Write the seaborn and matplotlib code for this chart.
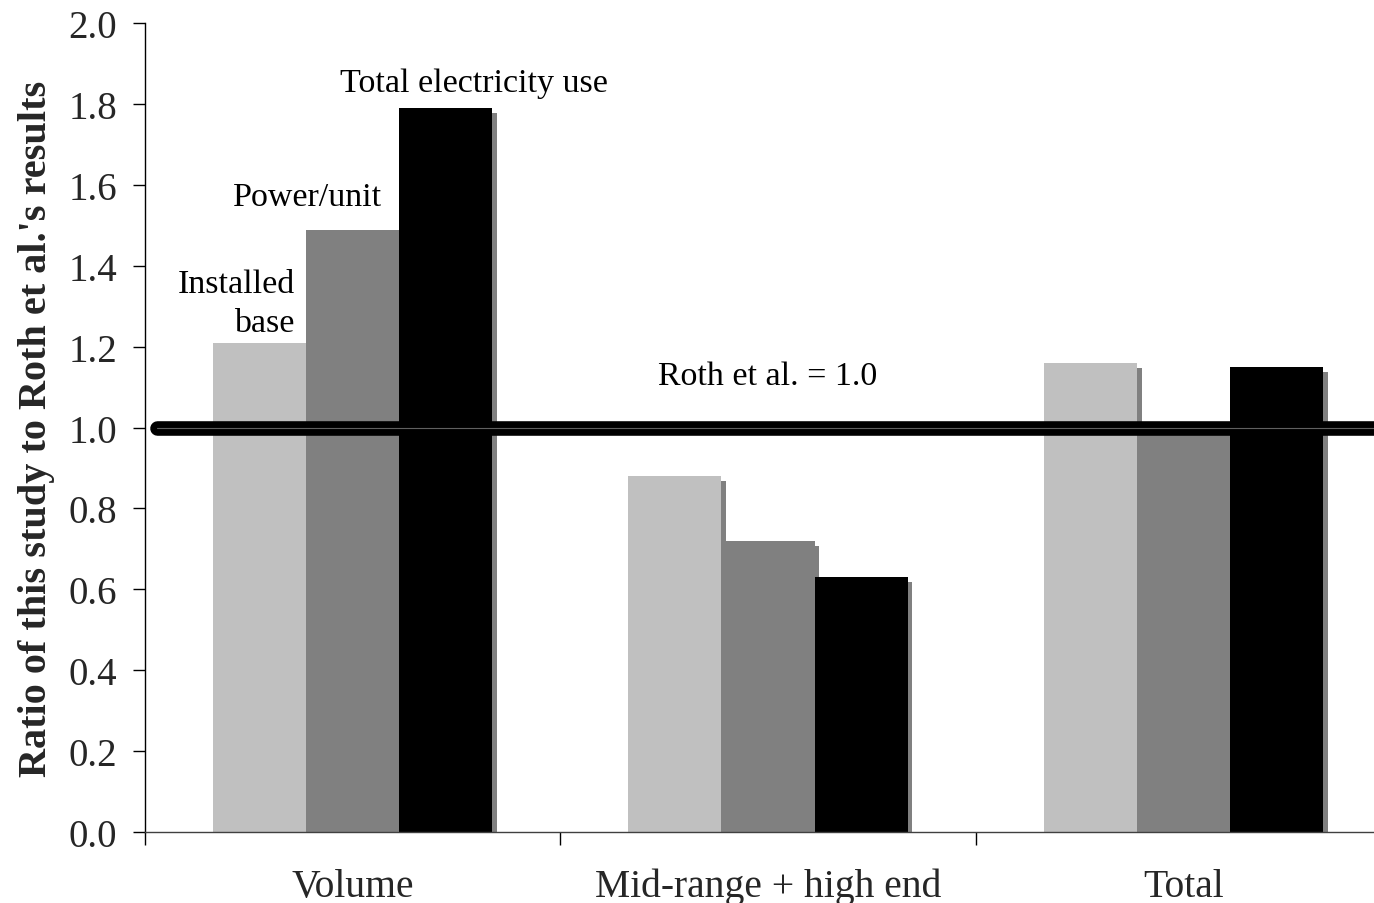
import matplotlib
matplotlib.use("Agg")
import matplotlib.pyplot as plt
import matplotlib.patheffects as pe
import pandas as pd
import seaborn as sns

# chart data
categories = ["Volume", "Mid-range + high end", "Total"]
series = ["Installed base", "Power/unit", "Total electricity use"]
installed_base = [1.21, 0.88, 1.16]
power_per_unit = [1.49, 0.72, 1.01]
total_electricity = [1.79, 0.63, 1.15]
y_ticks = [0.0, 0.2, 0.4, 0.6, 0.8, 1.0, 1.2, 1.4, 1.6, 1.8, 2.0]
colors = ["#c0c0c0", "#808080", "#000000"]
roth_level = 1.0

df = pd.DataFrame({
    "category": categories * 3,
    "series": [s for s in series for _ in categories],
    "ratio": installed_base + power_per_unit + total_electricity,
})

sns.set_style("white")
plt.rcParams["font.family"] = ["Liberation Serif", "DejaVu Serif"]

fig = plt.figure(figsize=(13.74, 9.04), dpi=100)
ax = fig.add_axes([0.1055, 0.0790, 0.9069, 0.8939])

sns.barplot(data=df, x="category", y="ratio", hue="series", order=categories,
            hue_order=series, palette=colors, width=0.672, errorbar=None,
            legend=False, ax=ax, linewidth=0)

# drop shadows on the bars
for bar in ax.patches:
    bar.set_path_effects([pe.SimplePatchShadow(offset=(3.5, -3.5), shadow_rgbFace="#808080", alpha=1.0),
                          pe.Normal()])

# reference line at Roth et al. = 1.0
ax.plot([-0.47, 2.6], [roth_level, roth_level], color="black", lw=10.5,
        solid_capstyle="round", zorder=5)
ax.plot([-0.47, 2.6], [roth_level, roth_level], color="#606060", lw=0.8, zorder=6)

ax.set_xlim(-0.5, 2.5)
ax.set_ylim(0, 2.0)
ax.set_yticks(y_ticks)
ax.set_yticklabels([f"{t:.1f}" for t in y_ticks])
ax.set_xticks([0, 1, 2])
ax.set_xticklabels(categories)
ax.set_xticks([-0.5, 0.5, 1.5, 2.5], minor=True)
ax.tick_params(axis="x", which="major", bottom=False, length=0, pad=26, labelsize=28.5)
ax.tick_params(axis="x", which="minor", bottom=True, length=9, width=1, color="black", direction="out")
ax.tick_params(axis="y", left=True, length=9, width=1, color="black", direction="out", pad=11, labelsize=28)

ax.set_xlabel("")
ax.set_ylabel("Ratio of this study to Roth et al.'s results", fontsize=29,
              fontweight="bold", labelpad=10)

for side in ["top", "right"]:
    ax.spines[side].set_visible(False)
ax.spines["left"].set_color("black")
ax.spines["bottom"].set_color("#404040")
for side in ["left", "bottom"]:
    ax.spines[side].set_linewidth(1)

# series labels on the first group
txt = dict(fontsize=24.5, va="baseline", color="black")
ax.text(-0.139, 1.335, "Installed", ha="right", **txt)
ax.text(-0.139, 1.240, "base", ha="right", **txt)
ax.text(-0.108, 1.551, "Power/unit", ha="center", **txt)
ax.text(0.292, 1.834, "Total electricity use", ha="center", **txt)
ax.text(1.0, 1.108, "Roth et al. = 1.0", ha="center", **txt)

fig.savefig("out.png", dpi=100)
